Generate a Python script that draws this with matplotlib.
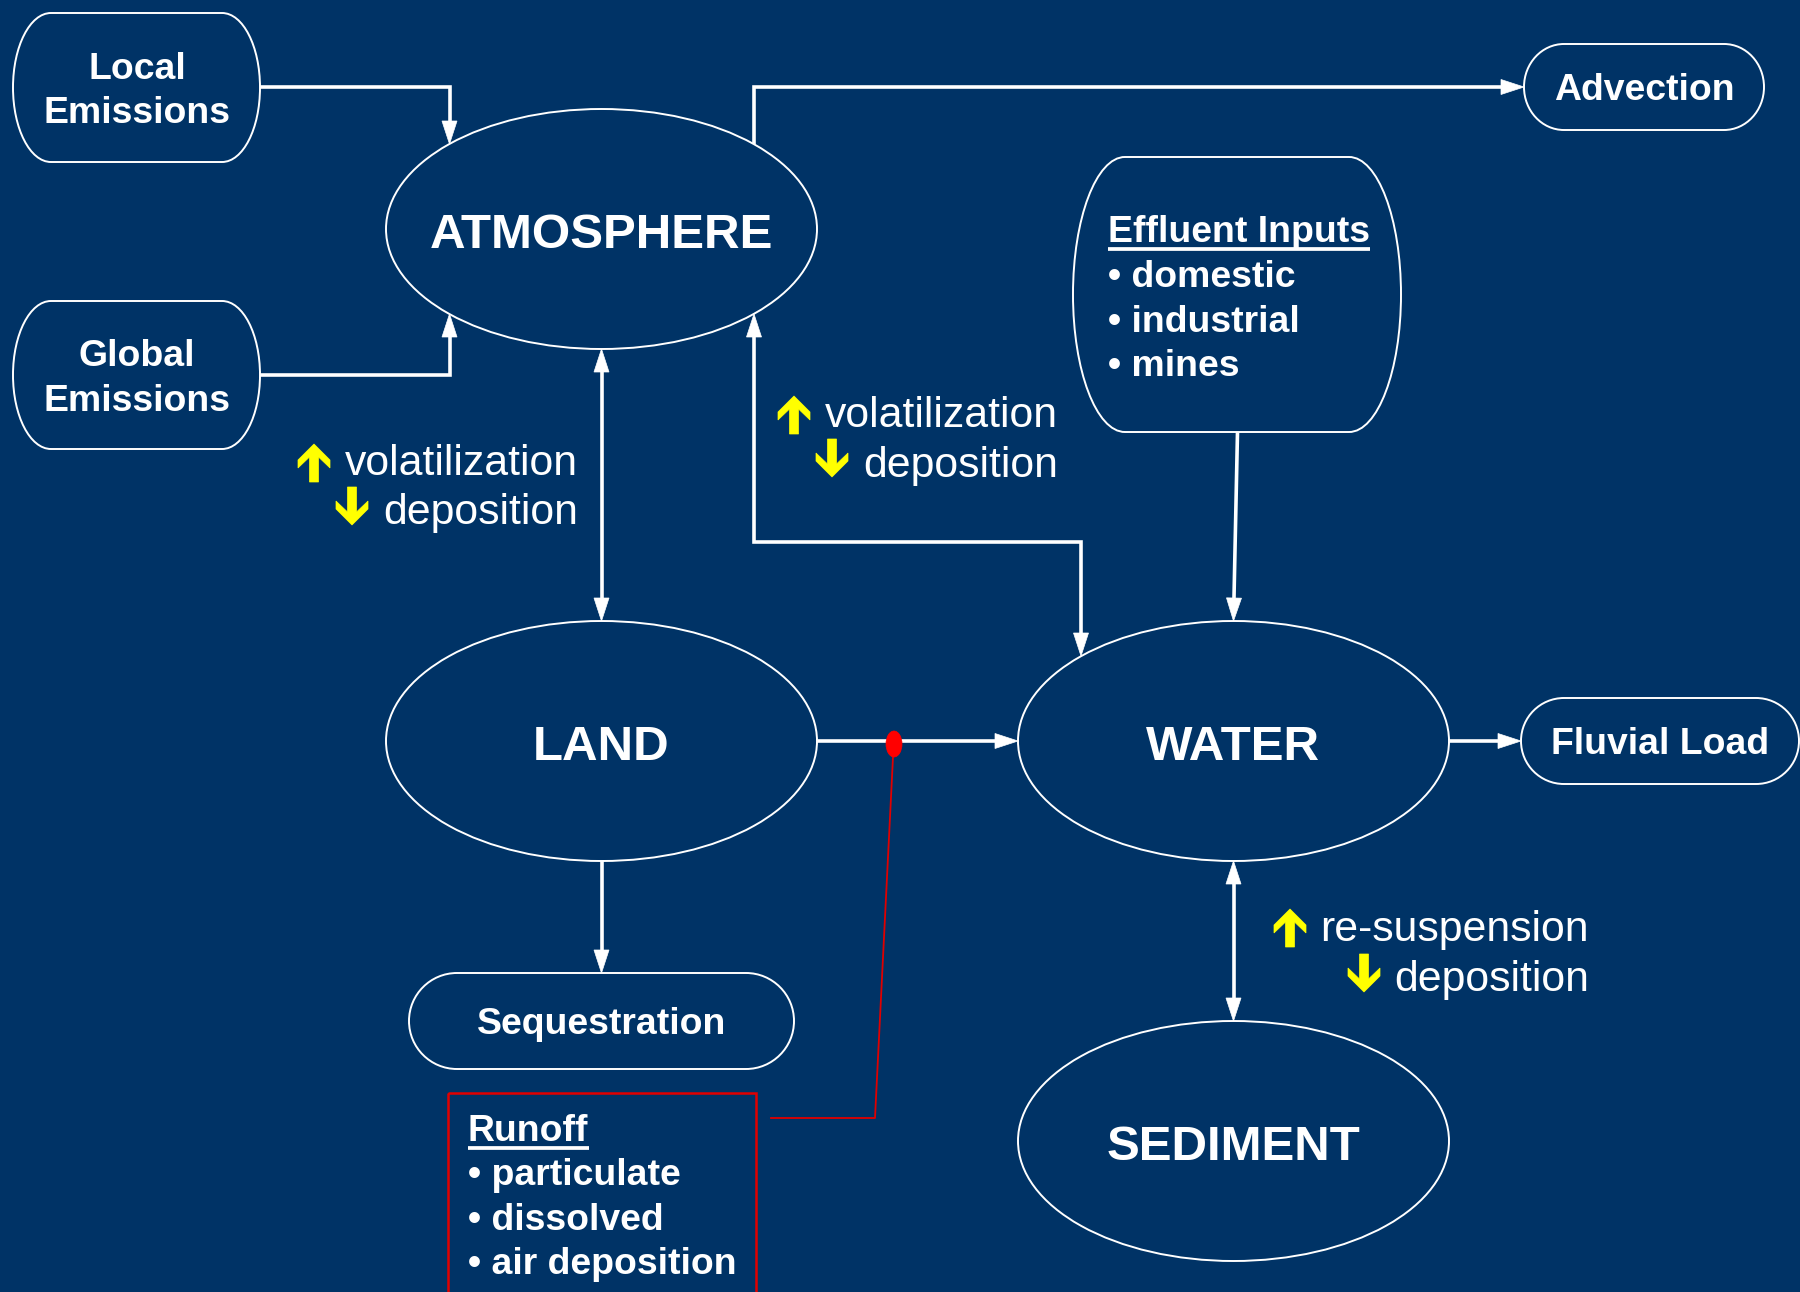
import numpy as np
import matplotlib
matplotlib.use("Agg")
import matplotlib.pyplot as plt
from matplotlib.patches import Ellipse, PathPatch, Polygon, Rectangle
from matplotlib.path import Path

# ---------------- content ----------------
compartments = ["ATMOSPHERE", "LAND", "WATER", "SEDIMENT"]
source_sinks = ["Local\nEmissions", "Global\nEmissions", "Advection", "Sequestration", "Fluvial Load"]
effluent_title = "Effluent Inputs"
effluent_items = ["domestic", "industrial", "mines"]
runoff_title = "Runoff"
runoff_items = ["particulate", "dissolved", "air deposition"]
flow_labels = [("volatilization", "deposition"),
               ("volatilization", "deposition"),
               ("re-suspension", "deposition")]

# ---------------- style ----------------
BG = "#003366"
WHITE = "white"
YELLOW = "#FFFF00"
RED = "#E00000"
FONT = "Liberation Sans"
LW = 2.6
OUT_LW = 1.4

fig = plt.figure(figsize=(18, 12.92), dpi=100)
fig.patch.set_facecolor(BG)
ax = fig.add_axes([0, 0, 1, 1])
ax.set_xlim(0, 1800)
ax.set_ylim(1292, 0)
ax.axis("off")
ax.set_facecolor(BG)

# layout (pixel coordinates)
ell_layout = {"ATMOSPHERE": (601.5, 229), "LAND": (601.5, 741),
              "WATER": (1233.5, 741), "SEDIMENT": (1233.5, 1141)}
ELL_W, ELL_H = 431, 240
box_layout = {"Local\nEmissions": (13, 13, 260, 162, 38),
              "Global\nEmissions": (13, 301, 260, 449, 38),
              "Advection": (1524, 44, 1764, 130, 40),
              "Sequestration": (409, 973, 794, 1069, 48),
              "Fluvial Load": (1521, 698, 1799, 784, 43)}
effluent_box = (1073, 157, 1401, 432, 52)


def rounded_box(x0, y0, x1, y1, rx, **kw):
    ry = (y1 - y0) / 2.0
    k = 0.5523
    verts = [(x0 + rx, y0), (x1 - rx, y0),
             (x1 - rx + k * rx, y0), (x1, y0 + ry - k * ry), (x1, y0 + ry),
             (x1, y1 - ry + k * ry), (x1 - rx + k * rx, y1), (x1 - rx, y1),
             (x0 + rx, y1),
             (x0 + rx - k * rx, y1), (x0, y1 - ry + k * ry), (x0, y1 - ry),
             (x0, y0 + ry - k * ry), (x0 + rx - k * rx, y0), (x0 + rx, y0),
             (x0 + rx, y0)]
    codes = [Path.MOVETO, Path.LINETO,
             Path.CURVE4, Path.CURVE4, Path.CURVE4,
             Path.CURVE4, Path.CURVE4, Path.CURVE4,
             Path.LINETO,
             Path.CURVE4, Path.CURVE4, Path.CURVE4,
             Path.CURVE4, Path.CURVE4, Path.CURVE4,
             Path.CLOSEPOLY]
    ax.add_patch(PathPatch(Path(verts, codes), **kw))


def head(tip, frm, L=23, hw=7.5, color=WHITE):
    tip = np.array(tip, float)
    d = tip - np.array(frm, float)
    d /= np.linalg.norm(d)
    n = np.array([-d[1], d[0]])
    base = tip - d * L
    ax.add_patch(Polygon([tip, base + n * hw, base - n * hw], closed=True,
                         facecolor=color, edgecolor=color, lw=0.5, zorder=4))


def connector(pts, start_head=False, end_head=True, color=WHITE, lw=LW):
    pts = [np.array(p, float) for p in pts]
    line = list(pts)
    if end_head:
        head(pts[-1], pts[-2], color=color)
        d = pts[-1] - pts[-2]
        d /= np.linalg.norm(d)
        line[-1] = pts[-1] - d * 20
    if start_head:
        head(pts[0], pts[1], color=color)
        d = pts[0] - pts[1]
        d /= np.linalg.norm(d)
        line[0] = pts[0] - d * 20
    xs = [p[0] for p in line]
    ys = [p[1] for p in line]
    ax.plot(xs, ys, color=color, lw=lw, solid_joinstyle="miter",
            solid_capstyle="butt", zorder=3)


def block_arrow(cx, tip_y, up=True):
    s = 1 if up else -1
    rel = [(0, 0), (16, 16), (16, 24), (4.5, 13), (4.5, 38), (-4.5, 38),
           (-4.5, 13), (-16, 24), (-16, 16)]
    pts = [(cx + dx, tip_y + s * dy) for dx, dy in rel]
    ax.add_patch(Polygon(pts, closed=True, facecolor=YELLOW, edgecolor=YELLOW,
                         lw=0.5, zorder=4))


# ---------------- compartments ----------------
for name in compartments:
    cx, cy = ell_layout[name]
    ax.add_patch(Ellipse((cx, cy), ELL_W, ELL_H, facecolor=BG, edgecolor=WHITE,
                         lw=OUT_LW, zorder=2))
    ax.text(cx, cy + 18.8, name, ha="center", va="baseline", color=WHITE,
            fontsize=35.5, fontweight="bold", family=FONT, zorder=5)

# ---------------- boxes ----------------
for name in source_sinks:
    x0, y0, x1, y1, rx = box_layout[name]
    rounded_box(x0, y0, x1, y1, rx, facecolor=BG, edgecolor=WHITE, lw=OUT_LW, zorder=2)
    lines = name.split("\n")
    cy = (y0 + y1) / 2.0
    n = len(lines)
    step = 44.5
    for i, ln in enumerate(lines):
        base = cy + 13.5 + (i - (n - 1) / 2.0) * step
        ax.text((x0 + x1) / 2.0 + 0.5, base, ln, ha="center", va="baseline",
                color=WHITE, fontsize=26.9, fontweight="bold", family=FONT, zorder=5)

# effluent box
ex0, ey0, ex1, ey1, erx = effluent_box
rounded_box(ex0, ey0, ex1, ey1, erx, facecolor=BG, edgecolor=WHITE, lw=OUT_LW, zorder=2)

renderer = fig.canvas.get_renderer()


def titled_list(x, base0, title, items, step):
    t = ax.text(x, base0, title, ha="left", va="baseline", color=WHITE,
                fontsize=26.9, fontweight="bold", family=FONT, zorder=5)
    bb = t.get_window_extent(renderer=renderer)
    w = bb.width
    ax.plot([x, x + w], [base0 + 6.5, base0 + 6.5], color=WHITE, lw=2.7,
            solid_capstyle="butt", zorder=5)
    for i, it in enumerate(items):
        ax.text(x, base0 + step * (i + 1), "\u2022 " + it, ha="left", va="baseline",
                color=WHITE, fontsize=26.9, fontweight="bold", family=FONT, zorder=5)


titled_list(1108, 242, effluent_title, effluent_items, 44.8)

# runoff box (red)
ax.add_patch(Rectangle((448, 1093), 308, 260, facecolor="none", edgecolor=RED,
                       lw=1.8, zorder=2))
titled_list(468, 1141, runoff_title, runoff_items, 44.3)

# ---------------- connectors ----------------
connector([(260, 87), (449.5, 87), (449.5, 144)])
connector([(260, 375), (449.5, 375), (449.5, 314)])
connector([(601.5, 349), (601.5, 621)], start_head=True)
connector([(754, 144), (754, 87), (1524, 87)])
connector([(754, 314), (754, 542), (1081, 542), (1081, 656)], start_head=True)
connector([(1237.5, 432), (1233.5, 621)])
connector([(817, 741), (1018, 741)])
connector([(1449, 741), (1521, 741)])
connector([(1233.5, 861), (1233.5, 1021)], start_head=True)
connector([(601.5, 861), (601.5, 973)])

# red runoff pointer
ax.plot([893, 875, 771], [757, 1118, 1118], color=RED, lw=1.3, zorder=3)
ax.add_patch(Ellipse((894, 744), 16, 26, facecolor="#FF0000", edgecolor="#FF0000",
                     lw=0.5, zorder=6))

# ---------------- flow labels ----------------
flow_layout = [(578, 475, 524, 314, 444, 352, 525),
               (1058, 427, 477, 794, 396, 832, 477),
               (1589, 940.5, 991.5, 1290, 909, 1364, 992)]
for (up_lbl, dn_lbl), (rx_, b1, b2, ux, uy, dx, dy) in zip(flow_labels, flow_layout):
    ax.text(rx_, b1, up_lbl, ha="right", va="baseline", color=WHITE,
            fontsize=30.8, family=FONT, zorder=5)
    ax.text(rx_, b2, dn_lbl, ha="right", va="baseline", color=WHITE,
            fontsize=30.8, family=FONT, zorder=5)
    block_arrow(ux, uy, up=True)
    block_arrow(dx, dy, up=False)

fig.savefig("out.png", dpi=100, facecolor=BG)
